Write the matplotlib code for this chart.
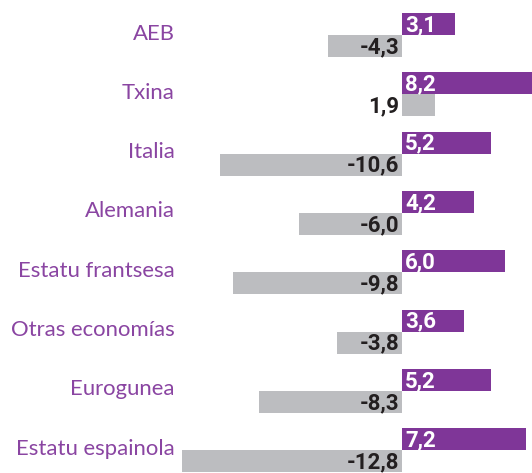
import matplotlib.pyplot as plt
from matplotlib import transforms

categories = ["AEB", "Txina", "Italia", "Alemania", "Estatu frantsesa",
              "Otras economías", "Eurogunea", "Estatu espainola"]
purple_vals = [3.1, 8.2, 5.2, 4.2, 6.0, 3.6, 5.2, 7.2]
grey_vals = [-4.3, 1.9, -10.6, -6.0, -9.8, -3.8, -8.3, -12.8]

purple = "#7f3698"
grey = "#bcbdc0"
dark = "#231f20"
label_col = "#8a45a2"

W, H = 532, 473
fig = plt.figure(figsize=(W / 100, H / 100), dpi=100)
ax = fig.add_axes([0, 0, 1, 1])

px = 17.2          # pixels per unit
zero_px = 402
ax.set_xlim(-zero_px / px, (W - zero_px) / px)
ax.set_ylim(7.57, -0.405)
ax.axis("off")

bh = 0.371
pos = list(range(len(categories)))
ax.barh(pos, purple_vals, height=bh, color=purple, align="center")
ax.barh([p + bh for p in pos], grey_vals, height=bh, color=grey, align="center")

fs = 16
trans = transforms.blended_transform_factory(ax.transAxes, ax.transData)
for i, name in enumerate(categories):
    ax.text(175 / W, i + 0.16, name, transform=trans,
            ha="right", va="center", color=label_col, fontsize=15.9, family="Lato")
    ax.text(0.18, i + 0.02, f"{purple_vals[i]:.1f}".replace(".", ","), ha="left", va="center",
            color="white", fontsize=fs, fontweight="bold", family="Roboto")
    ax.text(-0.15, i + bh + 0.02, f"{grey_vals[i]:.1f}".replace(".", ","), ha="right", va="center",
            color=dark, fontsize=fs, fontweight="bold", family="Roboto")

fig.savefig("out.png", dpi=100)
